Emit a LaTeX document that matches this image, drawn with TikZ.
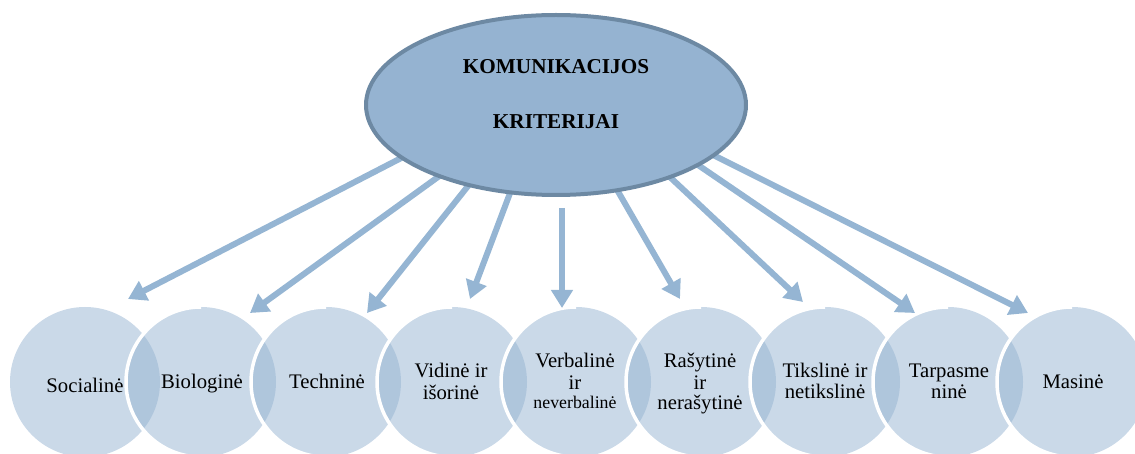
\documentclass[tikz,border=0pt]{standalone}
\usepackage{fontspec}
\setmainfont{Liberation Serif}
\usetikzlibrary{arrows.meta,shapes.geometric}
\definecolor{bluefill}{HTML}{95B3D1}
\definecolor{ellline}{HTML}{6D89A3}
\definecolor{arrowc}{HTML}{95B5D3}
\newcommand\stacklines[1]{\vtop{\baselineskip=22pt\halign{\hfil##\hfil\cr#1\crcr}}}
\newcommand\leftrim[1]{\begin{scope}\clip ([shift={(-6,-90)}]#1.west) rectangle ([shift={(0,6)}]#1.south); \draw[rim] (#1.center) circle[radius=75pt];\end{scope}}
\begin{document}
\begin{tikzpicture}[x=1pt,y=-1pt,
  bub/.style={circle, minimum size=150pt, inner sep=0pt, fill=bluefill, fill opacity=0.5, draw=none},
  lbl/.style={anchor=base, inner sep=0pt, font=\fontsize{20.7}{22}\selectfont, text=black},
  ttl/.style={anchor=base, inner sep=0pt, font=\fontsize{21.2}{24}\selectfont\bfseries, text=black},
  rim/.style={draw=white, line width=3.5pt},
  arr/.style={draw=arrowc, line width=6pt, -{Triangle[width=21pt,length=18pt]}},
]
\useasboundingbox (0,0) rectangle (1135,454);
\clip (0,0) rectangle (1135,454);

% circles
\node[bub] (c1) at (85,382) {};
\node[lbl] (l1) at (85,392) {Socialinė};

\node[bub] (c2) at (201,382) {};
\leftrim{c2}
\node[lbl] (l2) at (202,388) {Biologinė};

\node[bub] (c3) at (326,382) {};
\leftrim{c3}
\node[lbl] (l3) at (327,388) {Techninė};

\node[bub] (c4) at (452,382) {};
\leftrim{c4}
\node[lbl] (l4) at (451,377) {\stacklines{Vidinė ir\cr išorinė}};

\node[bub] (c5) at (576,382) {};
\leftrim{c5}
\node[lbl] (l5) at (575,367) {\stacklines{Verbalinė\cr ir\cr\noalign{\vskip-3pt}{\fontsize{17.8}{19}\selectfont neverbalinė}}};

\node[bub] (c6) at (701,382) {};
\leftrim{c6}
\node[lbl] (l6) at (700,367) {\stacklines{Rašytinė\cr ir\cr\noalign{\vskip-2pt}nerašytinė}};

\node[bub] (c7) at (825,382) {};
\leftrim{c7}
\node[lbl] (l7) at (825,377) {\stacklines{Tikslinė ir\cr\noalign{\vskip-1pt}netikslinė}};

\node[bub] (c8) at (948,382) {};
\leftrim{c8}
\node[lbl] (l8) at (949,377) {\stacklines{Tarpasme\cr\noalign{\vskip-1pt}ninė}};

\node[bub] (c9) at (1072,382) {};
\leftrim{c9}
\node[lbl] (l9) at (1073,388) {Masinė};

% arrow end points
\coordinate (s1) at (409,154);   \coordinate (t1) at (128,299);
\coordinate (s2) at (444.5,172.3); \coordinate (t2) at (250,313);
\coordinate (s3) at (472,181);   \coordinate (t3) at (367,313);
\coordinate (s4) at (511,190.5); \coordinate (t4) at (470,299);
\coordinate (s5) at (562,208);   \coordinate (t5) at (562,308);
\coordinate (s6) at (616,188);   \coordinate (t6) at (680,299);
\coordinate (s7) at (664,171.5); \coordinate (t7) at (803,302);
\coordinate (s8) at (691.4,160.5); \coordinate (t8) at (915,313);
\coordinate (s9) at (706,151.4); \coordinate (t9) at (1028,313);

\foreach \i in {1,...,9} { \draw[arr] (s\i) -- (t\i); }

% central ellipse
\node[ellipse, minimum width=380pt, minimum height=180pt, inner sep=0pt,
      fill=bluefill, draw=ellline, line width=4pt] (ell) at (556,105) {};
\node[ttl] (k1) at (556,74) {KOMUNIKACIJOS};
\node[ttl] (k2) at (556,129) {KRITERIJAI};
\end{tikzpicture}
\end{document}
